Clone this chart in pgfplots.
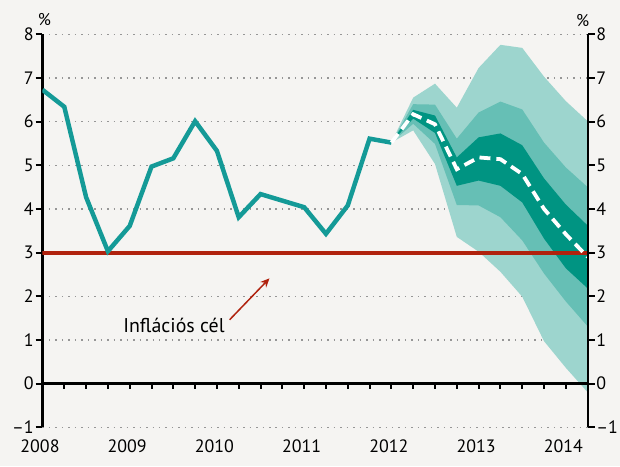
\documentclass[border=0pt]{standalone}
\usepackage{fontspec}
\setmainfont{PT Sans}
\usepackage{pgfplots}
\usepackage{pgfplotstable}
\pgfplotsset{compat=1.18}
\usepgfplotslibrary{fillbetween}
\usetikzlibrary{arrows.meta}
\definecolor{bgcol}{RGB}{245,244,242}
\definecolor{histc}{RGB}{20,154,151}
\definecolor{lightb}{RGB}{157,213,206}
\definecolor{medb}{RGB}{102,191,181}
\definecolor{darkb}{RGB}{0,148,130}
\definecolor{target}{RGB}{176,34,14}
\definecolor{gridc}{RGB}{150,150,150}

\pgfplotstableread{
k v
0 6.73
1 6.34
2 4.27
3 3.03
4 3.61
5 4.97
6 5.16
7 6.01
8 5.33
9 3.81
10 4.34
11 4.19
12 4.04
13 3.43
14 4.08
15 5.61
16 5.52
}\hist

\pgfplotstableread{
k med dlo dhi mlo mhi llo lhi
16 5.52 5.52 5.52 5.52 5.52 5.52 5.52
17 6.17 6.07 6.27 5.95 6.40 5.80 6.55
18 5.94 5.74 6.14 5.49 6.39 5.03 6.87
19 4.91 4.53 5.18 4.09 5.61 3.36 6.32
20 5.18 4.65 5.64 4.08 6.21 3.02 7.23
21 5.14 4.53 5.73 3.81 6.46 2.56 7.76
22 4.80 4.15 5.46 3.28 6.28 1.99 7.69
23 4.00 3.32 4.70 2.52 5.52 0.97 7.03
24 3.42 2.64 4.10 1.88 4.95 0.36 6.47
25 2.90 2.18 3.62 1.31 4.50 -0.20 6.01
}\fan

\newcommand{\tickfont}{\fontsize{18bp}{20bp}\selectfont}

\begin{document}
\pagecolor{bgcol}
\begin{tikzpicture}

\begin{axis}[
  name=main,
  at={(0,0)}, anchor=south west,
  scale only axis, width=547.5bp, height=394.5bp,
  xmin=0, xmax=25, ymin=-1, ymax=8,
  axis x line=middle, axis y line=box,
  axis line style={-, line width=2.2bp, black},
  xtick={0,...,25}, xticklabels={},
  xtick align=outside,
  xtick style={line width=2bp, black, /pgfplots/major tick length=5.5bp},
  ytick={-1,0,...,8}, yticklabels={–1,0,1,2,3,4,5,6,7,8},
  ytick align=outside, ytick pos=both, yticklabel pos=left,
  ytick style={line width=2bp, black, /pgfplots/major tick length=7bp},
  yticklabel style={font=\tickfont, xshift=-1bp},
  ymajorgrids,
  grid style={gridc, line width=1.3bp, dash pattern=on 1.5bp off 5bp},
  fill between/on layer=main,
]
\addplot[name path=lhi, draw=none, forget plot] table[x=k, y=lhi] {\fan};
\addplot[name path=llo, draw=none, forget plot] table[x=k, y=llo] {\fan};
\addplot[lightb, draw=none] fill between[of=lhi and llo];
\addplot[name path=mhi, draw=none, forget plot] table[x=k, y=mhi] {\fan};
\addplot[name path=mlo, draw=none, forget plot] table[x=k, y=mlo] {\fan};
\addplot[medb, draw=none] fill between[of=mhi and mlo];
\addplot[name path=dhi, draw=none, forget plot] table[x=k, y=dhi] {\fan};
\addplot[name path=dlo, draw=none, forget plot] table[x=k, y=dlo] {\fan};
\addplot[darkb, draw=none] fill between[of=dhi and dlo];

\addplot[black, line width=2.5bp] coordinates {(0,0) (25,0)};
\addplot[target, line width=4bp] coordinates {(0,3) (25,3)};
\addplot[histc, line width=4.5bp] table[x=k, y=v] {\hist};
\addplot[white, line width=3.8bp, dash pattern=on 11bp off 6bp] table[x=k, y=med] {\fan};

\node[font=\fontsize{20bp}{22bp}\selectfont, anchor=center] at (axis cs:6.03,1.34) {Inflációs cél};
\draw[target, line width=1.5bp, -{Stealth[length=9bp,width=8bp]}] (axis cs:8.58,1.46) -- (axis cs:10.41,2.41);
\end{axis}

\begin{axis}[
  at={(0,0)}, anchor=south west,
  scale only axis, width=547.5bp, height=394.5bp,
  xmin=0, xmax=25, ymin=-1, ymax=8,
  axis x line*=bottom, axis y line*=right,
  x axis line style={draw=none},
  y axis line style={-, line width=2.2bp, black},
  xtick={0,4,...,24}, xticklabels={2008,2009,2010,2011,2012,2013,2014},
  xtick style={draw=none},
  xticklabel style={font=\tickfont, yshift=-9bp, xshift=-2.5bp},
  ytick={-1,0,...,8}, yticklabels={–1,0,1,2,3,4,5,6,7,8},
  ytick align=outside,
  ytick style={line width=2bp, black, /pgfplots/major tick length=7bp},
  yticklabel style={font=\tickfont, xshift=1bp},
]
\addplot[draw=none] coordinates {(0,0)};
\end{axis}

\node[font=\fontsize{17bp}{19bp}\selectfont] at ([xshift=2bp, yshift=15bp]main.north west) {\%};
\node[font=\fontsize{17bp}{19bp}\selectfont] at ([xshift=-5bp, yshift=14bp]main.north east) {\%};
\pgfresetboundingbox
\useasboundingbox (-40bp,-39bp) rectangle (580bp,429bp);
\end{tikzpicture}
\end{document}
